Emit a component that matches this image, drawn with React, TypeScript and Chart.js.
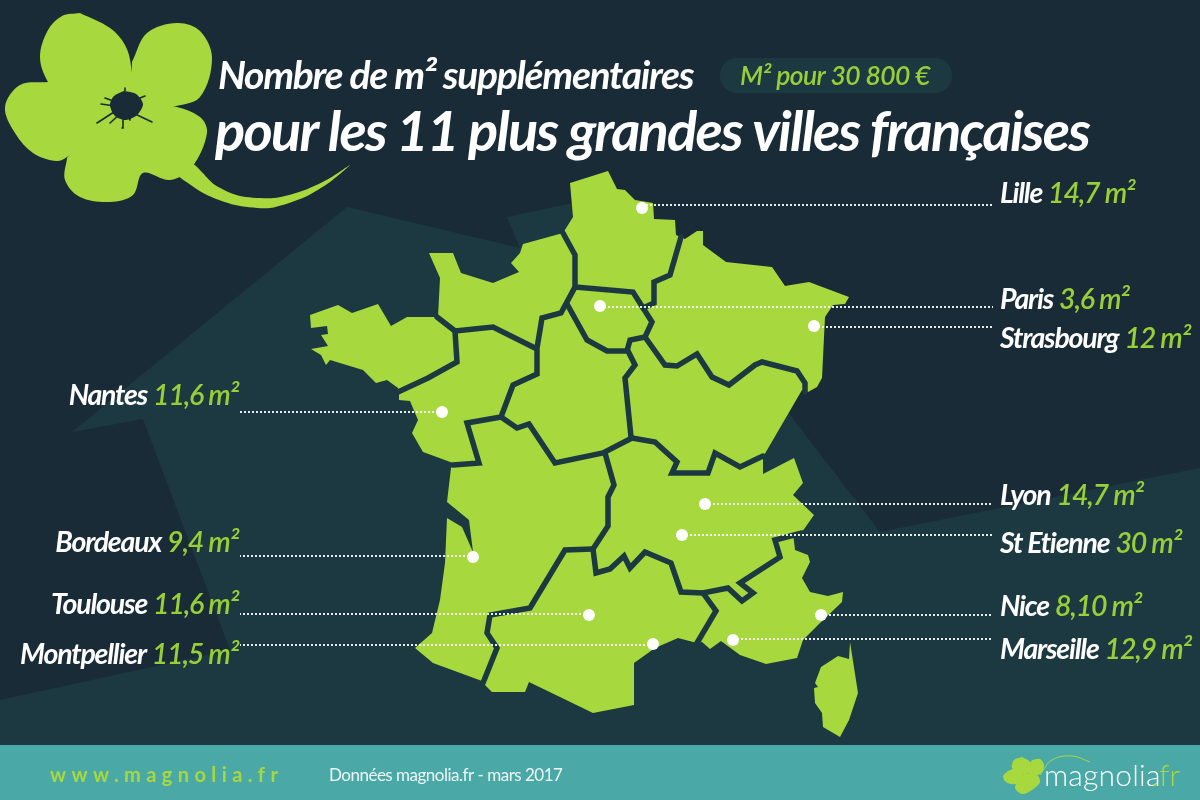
import React, { useEffect, useRef } from "react";
import { Chart, registerables } from "chart.js";

Chart.register(...registerables);

type P = [number, number];

const titleLine1 = "Nombre de m² supplémentaires";
const titleLine2 = "pour les 11 plus grandes villes françaises";
const pillText = "M² pour 30 800 €";
const siteText = "www.magnolia.fr";
const sourceText = "Données magnolia.fr - mars 2017";

const cityNames = ["Lille", "Paris", "Strasbourg", "Nantes", "Lyon", "St Etienne", "Bordeaux", "Toulouse", "Nice", "Montpellier", "Marseille"];
const cityValues = ["14,7", "3,6", "12", "11,6", "14,7", "30", "9,4", "11,6", "8,10", "11,5", "12,9"];
const cityX = [642, 600, 814, 442, 705, 682, 473, 589, 821, 653, 733];
const cityY = [208, 306, 326, 412, 504, 535, 557, 615, 615, 644, 640];
const leaderY = [205, 307, 327, 412, 504, 535, 556, 614, 615, 645, 639];
const labelBaseline = [203, 309, 348, 405, 505, 553, 552, 614, 616, 664, 659];
const citySide = ["R", "R", "R", "L", "R", "R", "L", "L", "R", "L", "R"];

const backdrop: P[] = [[347, 207], [520, 248], [507, 217], [573, 203], [600, 250], [790, 415], [880, 532], [1200, 468], [1200, 745], [0, 745], [0, 700], [230, 650], [143, 419], [72, 432]];
const footerBand: P[] = [[0, 745], [1200, 745], [1200, 800], [0, 800]];

const mainland: P[] = [
  [570, 183], [608, 171], [617, 189], [625, 190], [635, 200], [653, 203], [654, 219], [675, 220], [676, 235], [685, 239],
  [697, 231], [703, 231], [703, 245], [726, 262], [772, 267], [785, 286], [809, 282], [849, 297], [845, 304], [833, 305],
  [825, 317], [822, 378], [817, 387], [808, 392], [802, 390], [763, 457], [763, 474], [794, 458], [803, 483], [793, 495],
  [814, 515], [802, 532], [793, 533], [795, 550], [808, 555], [810, 562], [802, 578], [810, 592], [828, 596], [843, 592],
  [842, 602], [820, 623], [803, 640], [797, 658], [766, 664], [740, 655], [721, 641], [710, 649], [702, 642], [697, 643],
  [678, 638], [655, 648], [634, 663], [634, 705], [593, 713], [529, 682], [525, 692], [492, 692], [485, 685], [482, 681],
  [433, 663], [415, 648], [432, 633], [440, 600], [445, 563], [447, 518], [462, 527], [473, 552], [469, 520], [447, 502],
  [451, 468], [453, 463], [423, 452], [412, 433], [418, 420], [410, 401], [399, 400], [399, 392], [398, 388], [387, 380],
  [376, 383], [363, 370], [330, 360], [326, 365], [321, 355], [311, 349], [328, 346], [321, 335], [328, 334], [327, 326],
  [311, 328], [310, 315], [338, 305], [352, 313], [378, 304], [391, 326], [407, 317], [438, 317], [440, 278], [429, 253],
  [453, 253], [461, 273], [493, 283], [519, 272], [511, 263], [520, 253], [523, 244], [563, 233], [573, 217],
];
const corsica: P[] = [[850, 642], [858, 693], [849, 720], [840, 737], [823, 727], [822, 713], [815, 703], [814, 688], [818, 687], [815, 683], [821, 667], [838, 656], [849, 659]];

const regionBorders: P[][] = [
  [[563, 233], [575, 255], [575, 287], [561, 313], [542, 318], [537, 348], [537, 374], [513, 385], [501, 417], [467, 423], [479, 463], [453, 465]],
  [[437, 317], [455, 331], [457, 362], [428, 378], [398, 392]],
  [[455, 331], [493, 327], [535, 348]],
  [[567, 304], [587, 340], [607, 351], [627, 351], [630, 340], [645, 337], [652, 322], [633, 292], [575, 287]],
  [[681, 237], [670, 275], [654, 282], [654, 303], [643, 308]],
  [[645, 337], [665, 365], [677, 366], [697, 354], [712, 377], [729, 385], [755, 365], [762, 362], [797, 371], [805, 383], [805, 392]],
  [[628, 351], [635, 365], [625, 378], [631, 437]],
  [[501, 417], [517, 428], [529, 424], [555, 463], [603, 453], [632, 438]],
  [[632, 438], [655, 442], [677, 462], [672, 473], [708, 473], [715, 453], [740, 467], [763, 456]],
  [[605, 453], [614, 485], [608, 497], [608, 526], [593, 549]],
  [[593, 549], [565, 550], [530, 608], [490, 615], [487, 633], [497, 648], [483, 683]],
  [[593, 549], [596, 573], [610, 569], [624, 556], [630, 568], [645, 552], [671, 563], [681, 592], [703, 593], [728, 588], [742, 601], [753, 593], [740, 583], [780, 557], [775, 540], [802, 533]],
  [[703, 593], [716, 611], [697, 643]],
];

const petals: P[][] = [
  [[80, 13], [110, 28], [125, 45], [131, 66], [132, 108], [100, 122], [62, 98], [48, 82], [40, 57], [48, 30], [62, 16], [80, 13]],
  [[132, 62], [147, 33], [177, 23], [200, 31], [212, 58], [200, 97], [172, 107], [132, 118], [132, 62]],
  [[48, 82], [20, 85], [5, 107], [15, 133], [33, 153], [57, 161], [70, 155], [110, 125], [120, 100], [80, 80], [48, 82]],
  [[67, 158], [65, 180], [80, 197], [110, 202], [133, 195], [143, 173], [170, 180], [192, 167], [207, 133], [200, 117], [172, 106], [120, 100], [67, 158]],
];
const stem: P[] = [[172, 172], [205, 194], [235, 205], [270, 208], [305, 197], [330, 182], [350, 165], [330, 178], [305, 190], [275, 198], [240, 196], [215, 185], [190, 162], [172, 172]];
const bugBody: P[] = [[124, 91], [136, 94], [143, 104], [137, 115], [126, 120], [115, 116], [110, 105], [114, 96], [124, 91]];
const bugLegs: P[][] = [
  [[101, 104], [115, 106]], [[105, 98], [116, 102]], [[97, 123], [114, 112]], [[110, 123], [120, 114]],
  [[122, 128], [123, 115]], [[130, 120], [128, 112]], [[152, 122], [133, 113]], [[145, 96], [135, 100]], [[125, 88], [125, 95]],
];
const logoPetals: P[][] = [
  [[1022, 757], [1030, 762], [1030, 772], [1020, 774], [1012, 768], [1014, 760], [1022, 757]],
  [[1032, 760], [1040, 759], [1044, 766], [1040, 774], [1030, 775], [1028, 767], [1032, 760]],
  [[1008, 771], [1016, 769], [1024, 776], [1016, 784], [1006, 782], [1003, 776], [1008, 771]],
  [[1024, 774], [1036, 774], [1040, 782], [1032, 790], [1022, 794], [1015, 787], [1024, 774]],
];
const logoSwoosh: P[] = [[1040, 775], [1052, 760], [1072, 756], [1090, 762]];

const GREEN = "#a7d83d";
const LABEL_GREEN = "#98cf38";
const TEAL = "#1c3942";
const NAVY = "#192b36";
const FOOTER = "#4aa9a7";

const pts = (a: P[]) => a.map(([x, y]) => ({ x, y }));
const area = (a: P[], color: string, tension = 0) => ({ data: pts(a), backgroundColor: color, borderColor: color, borderWidth: 0, fill: "shape", tension, pointRadius: 0, showLine: true });
const stroke = (a: P[], color: string, width: number, dash: number[] = []) => ({ data: pts(a), borderColor: color, borderWidth: width, borderDash: dash, fill: false, pointRadius: 0, showLine: true, tension: 0, borderJoinStyle: "miter", borderCapStyle: dash.length ? "butt" : "round" });

function write(ctx: CanvasRenderingContext2D, text: string, x: number, y: number, font: string, color: string, spacing = "0px", align: CanvasTextAlign = "left") {
  ctx.font = font;
  (ctx as any).letterSpacing = spacing;
  ctx.fillStyle = color;
  ctx.textAlign = align;
  ctx.textBaseline = "alphabetic";
  ctx.fillText(text, x, y);
}

const textLayer = {
  id: "textLayer",
  afterDatasetsDraw(chart: any) {
    const { ctx, scales } = chart;
    const X = (v: number) => scales.x.getPixelForValue(v);
    const Y = (v: number) => scales.y.getPixelForValue(v);
    ctx.save();
    write(ctx, titleLine1, X(218), Y(89), "italic 700 39px Lato", "#ffffff", "-1.3px");
    write(ctx, titleLine2, X(215), Y(151), "italic 700 56px Lato", "#ffffff", "-1.8px");

    ctx.fillStyle = TEAL;
    ctx.beginPath();
    (ctx as any).roundRect(X(720), Y(58), 232, 35, 17);
    ctx.fill();
    write(ctx, pillText, X(740), Y(85), "italic 600 26.5px Lato", LABEL_GREEN, "-0.6px");

    cityNames.forEach((name, i) => {
      const nameFont = "italic 700 28.5px Lato";
      const valueFont = "italic 600 28.5px Lato";
      const spacing = "-1.2px";
      const value = `${cityValues[i]} m²`;
      ctx.font = nameFont;
      (ctx as any).letterSpacing = spacing;
      const nameW = ctx.measureText(name).width;
      ctx.font = valueFont;
      const valueW = ctx.measureText(value).width;
      const gap = 6;
      const start = citySide[i] === "R" ? X(1000) : X(238) - nameW - gap - valueW;
      write(ctx, name, start, Y(labelBaseline[i]), nameFont, "#ffffff", spacing);
      write(ctx, value, start + nameW + gap, Y(labelBaseline[i]), valueFont, LABEL_GREEN, spacing);
    });

    write(ctx, siteText, X(50), Y(782), "700 20px Lato", GREEN, "5.4px");
    write(ctx, sourceText, X(329), Y(781), "400 17px Lato", "#eef7f6", "-0.5px");
    write(ctx, "magnolia", X(1044), Y(786), "300 30px Lato", "#ffffff", "0.2px");
    write(ctx, ".fr", X(1152), Y(786), "300 30px Lato", GREEN, "0.2px");
    ctx.restore();
  },
};

export default function App() {
  const ref = useRef<HTMLCanvasElement>(null);
  useEffect(() => {
    document.body.style.margin = "0";
    document.body.style.background = NAVY;
    const layers: any[] = [
      area(backdrop, TEAL),
      area(footerBand, FOOTER),
      area(mainland, GREEN),
      area(corsica, GREEN),
      ...regionBorders.map((b) => stroke(b, TEAL, 5.5)),
      ...petals.map((p) => area(p, GREEN, 0.35)),
      area(stem, GREEN, 0.25),
      area(bugBody, NAVY, 0.3),
      ...bugLegs.map((l) => stroke(l, NAVY, 1.6)),
      ...logoPetals.map((p) => area(p, GREEN, 0.35)),
      { ...area(logoSwoosh, "transparent", 0.4), fill: false, borderColor: GREEN, borderWidth: 1 },
      ...cityNames.map((_, i) => {
        const end = citySide[i] === "R" ? 993 : 240;
        return stroke([[cityX[i], leaderY[i]], [end, leaderY[i]]], "rgba(255,255,255,0.9)", 2, [2, 2]);
      }),
      {
        data: cityX.map((x, i) => ({ x, y: cityY[i] })),
        showLine: false,
        pointRadius: 6,
        pointBackgroundColor: "#ffffff",
        pointBorderWidth: 0,
      },
    ];
    layers.forEach((d, i) => (d.order = layers.length - i));
    const chart = new Chart(ref.current as HTMLCanvasElement, {
      type: "scatter",
      data: { datasets: layers },
      options: {
        animation: false,
        responsive: false,
        devicePixelRatio: 1,
        layout: { padding: 0, autoPadding: false },
        events: [],
        plugins: { legend: { display: false }, tooltip: { enabled: false } },
        scales: {
          x: { type: "linear", min: 0, max: 1200, display: false },
          y: { type: "linear", min: 0, max: 800, reverse: true, display: false },
        },
      },
      plugins: [textLayer],
    } as any);
    return () => chart.destroy();
  }, []);
  return <canvas ref={ref} width={1200} height={800} style={{ display: "block", width: 1200, height: 800, background: NAVY }} />;
}
